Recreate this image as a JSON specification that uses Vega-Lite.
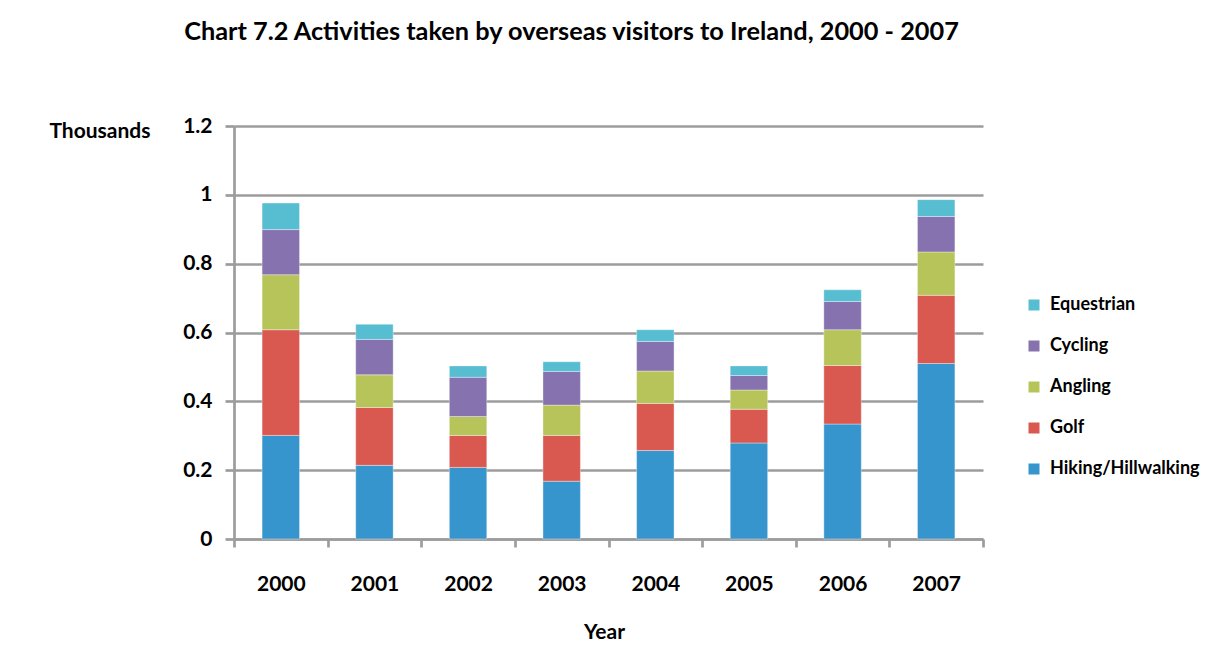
{
  "$schema": "https://vega.github.io/schema/vega-lite/v6.json",
  "width": 749,
  "height": 413,
  "autosize": {"type": "none"},
  "padding": {"left": 234, "top": 126, "right": 242, "bottom": 130},
  "background": "white",
  "title": {
    "text": "Chart 7.2  Activities taken by overseas visitors to Ireland, 2000 - 2007",
    "anchor": "middle",
    "dx": -37,
    "baseline": "alphabetic",
    "offset": 50,
    "font": "Lato",
    "fontSize": 25.3,
    "fontWeight": "bold",
    "color": "#000000"
  },
  "config": {
    "view": {"stroke": null},
    "font": "Lato"
  },
  "datasets": {
    "activities": [
      {"activity": "Hiking/Hillwalking", "rank": 1},
      {"activity": "Golf", "rank": 2},
      {"activity": "Angling", "rank": 3},
      {"activity": "Cycling", "rank": 4},
      {"activity": "Equestrian", "rank": 5}
    ]
  },
  "data": {
    "values": [
      {"year": "2000", "activity": "Hiking/Hillwalking", "value": 0.301},
      {"year": "2000", "activity": "Golf", "value": 0.307},
      {"year": "2000", "activity": "Angling", "value": 0.160},
      {"year": "2000", "activity": "Cycling", "value": 0.131},
      {"year": "2000", "activity": "Equestrian", "value": 0.077},
      {"year": "2001", "activity": "Hiking/Hillwalking", "value": 0.214},
      {"year": "2001", "activity": "Golf", "value": 0.168},
      {"year": "2001", "activity": "Angling", "value": 0.095},
      {"year": "2001", "activity": "Cycling", "value": 0.103},
      {"year": "2001", "activity": "Equestrian", "value": 0.044},
      {"year": "2002", "activity": "Hiking/Hillwalking", "value": 0.208},
      {"year": "2002", "activity": "Golf", "value": 0.093},
      {"year": "2002", "activity": "Angling", "value": 0.055},
      {"year": "2002", "activity": "Cycling", "value": 0.114},
      {"year": "2002", "activity": "Equestrian", "value": 0.033},
      {"year": "2003", "activity": "Hiking/Hillwalking", "value": 0.168},
      {"year": "2003", "activity": "Golf", "value": 0.133},
      {"year": "2003", "activity": "Angling", "value": 0.088},
      {"year": "2003", "activity": "Cycling", "value": 0.098},
      {"year": "2003", "activity": "Equestrian", "value": 0.028},
      {"year": "2004", "activity": "Hiking/Hillwalking", "value": 0.257},
      {"year": "2004", "activity": "Golf", "value": 0.137},
      {"year": "2004", "activity": "Angling", "value": 0.094},
      {"year": "2004", "activity": "Cycling", "value": 0.086},
      {"year": "2004", "activity": "Equestrian", "value": 0.034},
      {"year": "2005", "activity": "Hiking/Hillwalking", "value": 0.279},
      {"year": "2005", "activity": "Golf", "value": 0.098},
      {"year": "2005", "activity": "Angling", "value": 0.056},
      {"year": "2005", "activity": "Cycling", "value": 0.042},
      {"year": "2005", "activity": "Equestrian", "value": 0.028},
      {"year": "2006", "activity": "Hiking/Hillwalking", "value": 0.334},
      {"year": "2006", "activity": "Golf", "value": 0.170},
      {"year": "2006", "activity": "Angling", "value": 0.104},
      {"year": "2006", "activity": "Cycling", "value": 0.082},
      {"year": "2006", "activity": "Equestrian", "value": 0.034},
      {"year": "2007", "activity": "Hiking/Hillwalking", "value": 0.510},
      {"year": "2007", "activity": "Golf", "value": 0.198},
      {"year": "2007", "activity": "Angling", "value": 0.126},
      {"year": "2007", "activity": "Cycling", "value": 0.103},
      {"year": "2007", "activity": "Equestrian", "value": 0.049}
    ]
  },
  "transform": [
    {"lookup": "activity", "from": {"data": {"name": "activities"}, "key": "activity", "fields": ["rank"]}}
  ],
  "mark": {"type": "bar", "width": {"band": 0.4}, "stroke": "#ffffff", "strokeWidth": 0.6, "strokeOpacity": 0.6},
  "encoding": {
    "x": {
      "field": "year",
      "type": "nominal",
      "scale": {"paddingInner": 0, "paddingOuter": 0},
      "axis": {
        "title": "Year",
        "titleFont": "Lato",
        "titleFontSize": 21,
        "titleFontWeight": "bold",
        "titleColor": "#000000",
        "titleBaseline": "alphabetic",
        "titleAnchor": "start",
        "titleAlign": "center",
        "titleX": 370,
        "titleY": 99,
        "labelAngle": 0,
        "labelFont": "Lato",
        "labelFontSize": 21,
        "labelFontWeight": "bold",
        "labelColor": "#000000",
        "labelBaseline": "alphabetic",
        "labelPadding": 43,
        "tickBand": "extent",
        "ticks": true,
        "tickSize": 8,
        "tickWidth": 2.7,
        "tickColor": "#9C9C9C",
        "domainColor": "#9C9C9C",
        "domainWidth": 2.7
      }
    },
    "y": {
      "field": "value",
      "type": "quantitative",
      "stack": "zero",
      "scale": {"domain": [0, 1.2], "nice": false},
      "axis": {
        "title": "Thousands",
        "titleAngle": 0,
        "titleAlign": "right",
        "titleBaseline": "alphabetic",
        "titleX": -84,
        "titleY": 11,
        "titleFont": "Lato",
        "titleFontSize": 21,
        "titleFontWeight": "bold",
        "titleColor": "#000000",
        "values": [0, 0.2, 0.4, 0.6, 0.8, 1, 1.2],
        "format": "~g",
        "labelFont": "Lato",
        "labelFontSize": 21,
        "labelFontWeight": "bold",
        "labelColor": "#000000",
        "labelPadding": 13,
        "tickSize": 9,
        "tickWidth": 2.7,
        "tickColor": "#9C9C9C",
        "domainColor": "#9C9C9C",
        "domainWidth": 2.7,
        "grid": true,
        "gridColor": "#9C9C9C",
        "gridWidth": 2.7
      }
    },
    "order": {"field": "rank", "type": "quantitative", "sort": "ascending"},
    "color": {
      "field": "activity",
      "type": "nominal",
      "sort": ["Equestrian", "Cycling", "Angling", "Golf", "Hiking/Hillwalking"],
      "scale": {
        "domain": ["Equestrian", "Cycling", "Angling", "Golf", "Hiking/Hillwalking"],
        "range": ["#57BDD1", "#8672AE", "#B6C459", "#D95951", "#3795CD"]
      },
      "legend": {
        "title": null,
        "orient": "none",
        "legendX": 791,
        "legendY": 170,
        "symbolType": "square",
        "symbolSize": 121,
        "symbolStrokeWidth": 0,
        "labelFont": "Lato",
        "labelFontSize": 18,
        "labelFontWeight": "bold",
        "labelColor": "#000000",
        "labelOffset": 7,
        "rowPadding": 23
      }
    }
  }
}
